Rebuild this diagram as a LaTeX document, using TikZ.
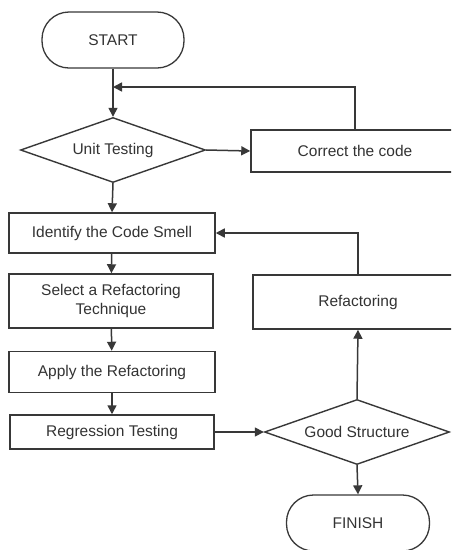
\documentclass[tikz,border=0pt]{standalone}
\usepackage{fontspec}
\setmainfont{Liberation Sans}
\usetikzlibrary{shapes.geometric,arrows.meta}
\definecolor{linegray}{HTML}{383838}
\definecolor{textgray}{HTML}{333333}
\begin{document}
\begin{tikzpicture}[x=1pt, y=-1pt,
        every node/.style={text=textgray, font=\fontsize{15.5}{19.5}\selectfont, align=center},
        box/.style={draw=linegray, line width=1.5pt, rectangle, inner sep=0pt},
        term/.style={draw=linegray, line width=1.3pt, rectangle, rounded corners=27pt, inner sep=0pt, minimum width=142pt, minimum height=56pt},
        decide/.style={draw=linegray, line width=1.4pt, diamond, aspect=2.8, inner sep=0pt, minimum width=185pt, minimum height=65pt},
        flow/.style={draw=linegray, line width=1.5pt, -{Triangle[length=9pt,width=9pt]}}]
            % Frame
            \path[use as bounding box, fill=white] (0,0) rectangle (451,550);
            \clip (0,0) rectangle (451,550);
            % Left column
            \node[term] (start) at (113,40) {START};
            \node[decide] (unit) at (113,150) {Unit Testing};
            \node[box, minimum width=206pt, minimum height=40pt] (smell) at (112,233) {Identify the Code Smell};
            \node[box, minimum width=204pt, minimum height=54pt] (select) at (111,301) {Select a Refactoring\\Technique};
            \node[box, minimum width=206pt, minimum height=41pt] (apply) at (112,372) {Apply the Refactoring};
            \node[box, minimum width=204pt, minimum height=34pt] (regress) at (112,432) {Regression Testing};
            % Right column
            \node[box, minimum width=208pt, minimum height=42pt] (correct) at (355,151) {Correct the code};
            \node[box, minimum width=210pt, minimum height=54pt] (refactor) at (358,302) {Refactoring};
            \node[decide] (good) at (357,432) {Good Structure};
            \node[term, minimum width=143pt] (finish) at (358,523) {FINISH};
            \coordinate (merge) at (113,87);
            % Connectors
            \draw[linegray, line width=1.5pt] (start) -- (merge);
            \draw[flow] (merge) -- (unit.north);
            \draw[flow] (correct.north) |- (merge);
            \draw[flow] (unit.east) -- (correct.west);
            \draw[flow] (unit.south) -- (smell.north);
            \draw[flow] (smell) -- (select);
            \draw[flow] (select) -- (apply);
            \draw[flow] (apply) -- (regress);
            \draw[flow] (regress.east) -- (good.west);
            \draw[flow] (good.north) -- (refactor.south);
            \draw[flow] (refactor.north) |- (smell.east);
            \draw[flow] (good.south) -- (finish.north);
        \end{tikzpicture}
\end{document}
